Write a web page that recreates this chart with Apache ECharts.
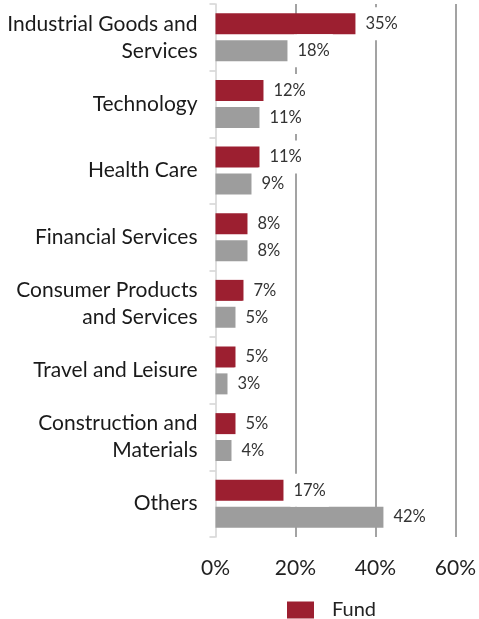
<!DOCTYPE html>
<html><head><meta charset="utf-8">
<script src="https://cdn.jsdelivr.net/npm/echarts@6/dist/echarts.min.js"></script>
<style>html,body{margin:0;padding:0;background:#fff}#c{width:479px;height:619px}</style>
</head><body><div id="c"></div>
<script>
const categories = ["Industrial Goods and\nServices","Technology","Health Care","Financial Services","Consumer Products\nand Services","Travel and Leisure","Construction and\nMaterials","Others"];
const fundValues = [35,12,11,8,7,5,5,17];
const benchmarkValues = [18,11,9,8,5,3,4,42];
const xTicks = [0,20,40,60];
const FONT = 'Lato';
const chart = echarts.init(document.getElementById('c'));
const lbl = {show:true, position:'right', distance:7, formatter:p=>p.value+'%', color:'#333', fontFamily:FONT, fontSize:16.5, backgroundColor:'#fff', padding:[8,3]};
chart.setOption({
  animation:false,
  grid:{left:215.5, right:21, top:4, bottom:82, containLabel:false},
  legend:{data:['Fund'], top:600, left:287, padding:0, itemWidth:27, itemHeight:17, icon:'rect',
    textStyle:{fontFamily:FONT, fontSize:20, color:'#222', padding:[0,0,4,13]}},
  xAxis:{type:'value', min:xTicks[0], max:xTicks[xTicks.length-1], interval:20,
    axisLine:{show:false}, axisTick:{show:false},
    axisLabel:{formatter:v=>v+'%', fontFamily:FONT, fontSize:21, color:'#222', margin:21},
    splitLine:{show:true, showMinLine:false, lineStyle:{color:'#a3a3a3', width:2}}},
  yAxis:{type:'category', data:categories, inverse:true,
    axisLine:{show:true, lineStyle:{color:'#d3d3d3', width:1.5}},
    axisTick:{show:true, length:6, lineStyle:{color:'#d3d3d3', width:1.5}},
    axisLabel:{fontFamily:FONT, fontSize:21, color:'#1a1a1a', margin:18, lineHeight:27, align:'right'}},
  series:[
    {name:'Fund', type:'bar', data:fundValues, barWidth:21, barGap:'28%', itemStyle:{color:'#9c1f30'}, label:lbl, z:3},
    {name:'Benchmark', type:'bar', data:benchmarkValues, barWidth:21, itemStyle:{color:'#9d9d9d'}, label:lbl, z:3}
  ]
});
</script></body></html>
